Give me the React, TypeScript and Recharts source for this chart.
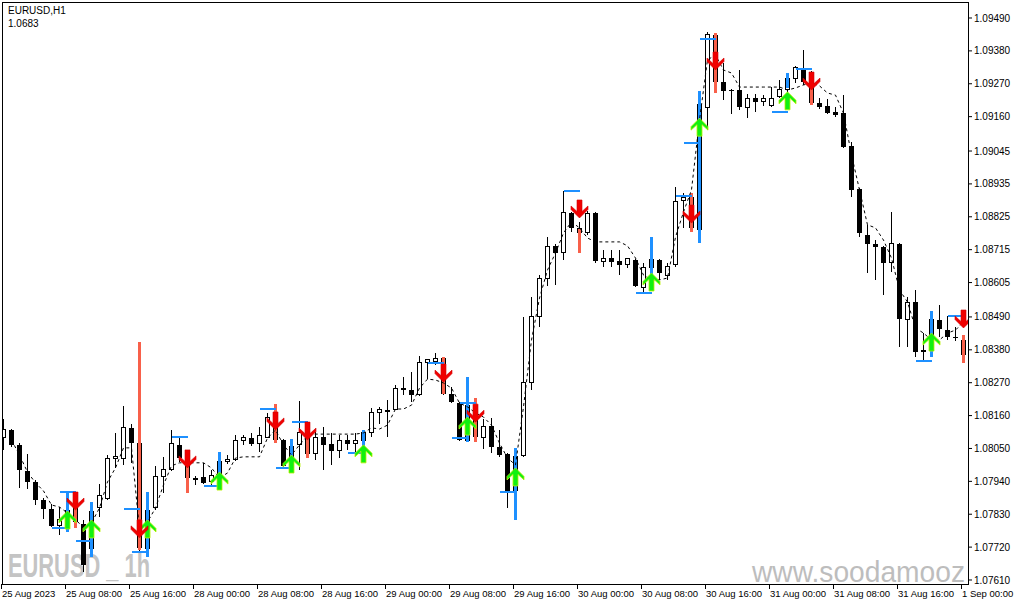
import React from 'react';
import { ComposedChart, Bar, Line, XAxis, YAxis } from 'recharts';

const FONT = '"Liberation Sans", Arial, sans-serif';

const timeLabels = ['25 Aug 2023', '25 Aug 08:00', '25 Aug 16:00', '28 Aug 00:00', '28 Aug 08:00', '28 Aug 16:00', '29 Aug 00:00', '29 Aug 08:00', '29 Aug 16:00', '30 Aug 00:00', '30 Aug 08:00', '30 Aug 16:00', '31 Aug 00:00', '31 Aug 08:00', '31 Aug 16:00', '1 Sep 00:00'];
const timeTickIdx = [0, 8, 16, 24, 32, 40, 48, 56, 64, 72, 80, 88, 96, 104, 112, 120];
const priceTicks = [1.0949, 1.0938, 1.0927, 1.0916, 1.09045, 1.08935, 1.08825, 1.08715, 1.08605, 1.0849, 1.0838, 1.0827, 1.0816, 1.0805, 1.0794, 1.0783, 1.0772, 1.0761];

const opens = [1.08088, 1.08112, 1.08062, 1.07975, 1.07938, 1.07878, 1.07848, 1.07791, 1.07794, 1.07861, 1.07797, 1.07717, 1.07851, 1.07884, 1.08018, 1.08015, 1.08119, 1.08068, 1.07717, 1.07851, 1.07955, 1.07978, 1.08062, 1.08018, 1.07945, 1.07955, 1.07941, 1.07941, 1.08008, 1.08012, 1.08075, 1.08085, 1.08065, 1.08088, 1.08155, 1.08078, 1.07992, 1.08062, 1.08105, 1.08032, 1.08088, 1.08065, 1.08042, 1.08078, 1.08065, 1.08075, 1.08102, 1.08169, 1.08179, 1.08182, 1.08246, 1.08246, 1.08229, 1.08336, 1.08342, 1.08352, 1.08232, 1.08202, 1.08078, 1.08195, 1.08088, 1.08125, 1.08055, 1.08032, 1.07911, 1.08028, 1.08269, 1.0849, 1.08617, 1.08728, 1.08704, 1.08838, 1.08788, 1.08771, 1.08838, 1.08677, 1.08687, 1.08677, 1.08664, 1.08681, 1.0859, 1.08657, 1.08681, 1.0863, 1.08664, 1.08878, 1.08891, 1.08781, 1.09192, 1.09433, 1.09277, 1.09249, 1.09249, 1.09192, 1.09222, 1.09209, 1.09196, 1.09226, 1.09252, 1.09286, 1.09319, 1.09277, 1.09206, 1.09196, 1.09175, 1.09172, 1.09062, 1.08918, 1.08764, 1.08734, 1.08724, 1.08671, 1.08734, 1.08483, 1.0854, 1.08376, 1.08379, 1.0848, 1.08446, 1.08423, 1.08413];
const highs = [1.08149, 1.08115, 1.08068, 1.08032, 1.07945, 1.07884, 1.07864, 1.07854, 1.07904, 1.07901, 1.07811, 1.07871, 1.07931, 1.08028, 1.08102, 1.08192, 1.08132, 1.08406, 1.07905, 1.07992, 1.08022, 1.08112, 1.08088, 1.08035, 1.07958, 1.08001, 1.07978, 1.08038, 1.08028, 1.08095, 1.08095, 1.08102, 1.08122, 1.08169, 1.08199, 1.08082, 1.08082, 1.08209, 1.08128, 1.08105, 1.08122, 1.08102, 1.08095, 1.08095, 1.08102, 1.08112, 1.08185, 1.08189, 1.08212, 1.08262, 1.08289, 1.08306, 1.08359, 1.08349, 1.08369, 1.08356, 1.08256, 1.08205, 1.08289, 1.08219, 1.08149, 1.08152, 1.08112, 1.08035, 1.08052, 1.0849, 1.08557, 1.0863, 1.08758, 1.08735, 1.08911, 1.08841, 1.08808, 1.08845, 1.08841, 1.08714, 1.08714, 1.08714, 1.08687, 1.08684, 1.08671, 1.08758, 1.08684, 1.08671, 1.08925, 1.08905, 1.08905, 1.09242, 1.09443, 1.0944, 1.09339, 1.09252, 1.09316, 1.09236, 1.09236, 1.09232, 1.09259, 1.09283, 1.09306, 1.09329, 1.09383, 1.09313, 1.09222, 1.09219, 1.09192, 1.09232, 1.09075, 1.08921, 1.08798, 1.08747, 1.08728, 1.08841, 1.08738, 1.08557, 1.0858, 1.08436, 1.0851, 1.0853, 1.08493, 1.08456, 1.0843];
const lows = [1.08045, 1.08055, 1.07918, 1.07915, 1.07861, 1.07814, 1.07787, 1.07761, 1.07771, 1.07784, 1.07637, 1.07687, 1.07821, 1.07878, 1.07985, 1.07995, 1.08001, 1.07704, 1.07687, 1.07844, 1.07901, 1.07975, 1.08005, 1.07901, 1.07928, 1.07931, 1.07928, 1.07911, 1.07998, 1.08008, 1.08062, 1.08058, 1.08038, 1.08085, 1.08068, 1.07985, 1.07968, 1.07978, 1.08018, 1.08012, 1.07978, 1.07995, 1.08018, 1.08045, 1.08035, 1.08012, 1.08088, 1.08132, 1.08088, 1.08179, 1.08229, 1.08205, 1.08226, 1.08282, 1.08329, 1.08229, 1.08202, 1.08075, 1.08072, 1.08072, 1.08048, 1.08035, 1.08022, 1.07851, 1.07811, 1.08022, 1.08246, 1.08456, 1.08594, 1.08597, 1.08681, 1.08774, 1.08704, 1.08764, 1.08671, 1.08657, 1.08657, 1.0863, 1.08654, 1.0859, 1.0857, 1.0858, 1.08614, 1.08614, 1.08657, 1.08788, 1.08774, 1.08737, 1.09115, 1.09239, 1.09216, 1.09169, 1.09182, 1.09155, 1.09175, 1.09196, 1.09192, 1.09222, 1.09242, 1.09273, 1.09266, 1.09199, 1.09186, 1.09169, 1.09159, 1.09055, 1.08891, 1.08757, 1.08637, 1.08614, 1.08563, 1.0864, 1.08389, 1.08389, 1.08356, 1.08346, 1.08356, 1.08423, 1.08413, 1.0841, 1.08336];
const closes = [1.08112, 1.08062, 1.07978, 1.07938, 1.07878, 1.07848, 1.07791, 1.07811, 1.07844, 1.07804, 1.0766, 1.07838, 1.07891, 1.08018, 1.08022, 1.08119, 1.08068, 1.07717, 1.07844, 1.07955, 1.07978, 1.08065, 1.08018, 1.07951, 1.07948, 1.07935, 1.07958, 1.08008, 1.08012, 1.08078, 1.08085, 1.08065, 1.08092, 1.08155, 1.08078, 1.07992, 1.08058, 1.08105, 1.08032, 1.08088, 1.08062, 1.08042, 1.08078, 1.08065, 1.08075, 1.08102, 1.08169, 1.08179, 1.08172, 1.08249, 1.08249, 1.08229, 1.08339, 1.08346, 1.08352, 1.08232, 1.08205, 1.08078, 1.08195, 1.08088, 1.08122, 1.08055, 1.08028, 1.07908, 1.08022, 1.08269, 1.0849, 1.08617, 1.08725, 1.08704, 1.08841, 1.08788, 1.08771, 1.08835, 1.08677, 1.08687, 1.08674, 1.08664, 1.08684, 1.08594, 1.08657, 1.08681, 1.08637, 1.0866, 1.08875, 1.08891, 1.08788, 1.09199, 1.09436, 1.09277, 1.09246, 1.09246, 1.09192, 1.09222, 1.09209, 1.09222, 1.09222, 1.09252, 1.09286, 1.09323, 1.09277, 1.09206, 1.09192, 1.09172, 1.09165, 1.09058, 1.08915, 1.08771, 1.08734, 1.08724, 1.08671, 1.08734, 1.08483, 1.08537, 1.08373, 1.08379, 1.0848, 1.0845, 1.08423, 1.0842, 1.08363];
const trail = [null, 1.08078, 1.08028, 1.07971, 1.07935, 1.07908, 1.07861, 1.07854, 1.07834, 1.07811, 1.07787, 1.07801, 1.07851, 1.07938, 1.07985, 1.08052, 1.08052, 1.07777, 1.07804, 1.07851, 1.07928, 1.07992, 1.08002, 1.08002, 1.08002, 1.08002, 1.07985, 1.07951, 1.07968, 1.08018, 1.08022, 1.08022, 1.08022, 1.08085, 1.08112, 1.08062, 1.08028, 1.08062, 1.08092, 1.08098, 1.08098, 1.08098, 1.08098, 1.08098, 1.08098, 1.08102, 1.08119, 1.08115, 1.08128, 1.08182, 1.08182, 1.08195, 1.08252, 1.08282, 1.08279, 1.08269, 1.08252, 1.08202, 1.08189, 1.08169, 1.08155, 1.08128, 1.08068, 1.08018, 1.07995, 1.08189, 1.08413, 1.08553, 1.08647, 1.08704, 1.08771, 1.08808, 1.08788, 1.08754, 1.08741, 1.08741, 1.08741, 1.08741, 1.08728, 1.08687, 1.0863, 1.08614, 1.08614, 1.0862, 1.08757, 1.08841, 1.08915, 1.09149, 1.0935, 1.09366, 1.09316, 1.09306, 1.09259, 1.09259, 1.09259, 1.09259, 1.09259, 1.09259, 1.09249, 1.09256, 1.09266, 1.09273, 1.09263, 1.09239, 1.09232, 1.09172, 1.09032, 1.08915, 1.08798, 1.08788, 1.08747, 1.08687, 1.0858, 1.0854, 1.08453, 1.08436, 1.08413, 1.08413, 1.08436, 1.08446, 1.08473];

const buyIdx = [8, 11, 18, 27, 36, 45, 58, 64, 81, 87, 98, 116];
const buyBarTop = [1.07904, 1.07871, 1.07905, 1.08038, 1.08082, 1.08112, 1.08289, 1.08052, 1.08758, 1.09246, 1.09306, 1.0851];
const buyBarBottom = [1.07771, 1.07687, 1.07687, 1.07911, 1.07968, 1.08012, 1.08072, 1.07811, 1.0858, 1.08738, 1.09256, 1.08356];
const buyLevel = [1.07784, 1.0774, 1.07704, 1.07925, 1.07985, 1.08035, 1.08085, 1.07904, 1.0857, 1.09072, 1.09176, 1.08343];
const buyArrow = [1.07841, 1.07811, 1.07811, 1.07971, 1.08028, 1.08062, 1.08155, 1.07985, 1.08637, 1.09155, 1.09243, 1.08436];

const sellIdx = [9, 17, 23, 34, 38, 55, 59, 72, 86, 89, 101, 120];
const sellBarTop = [1.07901, 1.08406, 1.08025, 1.08199, 1.08128, 1.08356, 1.08219, 1.08784, 1.08905, 1.0944, 1.09309, 1.0843];
const sellBarBottom = [1.07784, 1.0771, 1.07901, 1.08068, 1.08018, 1.08232, 1.08072, 1.08704, 1.08774, 1.09239, 1.09199, 1.08336];
const sellLevel = [1.07904, 1.07848, 1.08088, 1.08182, 1.08138, 1.08336, 1.08202, 1.08911, 1.08894, 1.0942, 1.09319, 1.08493];
const sellArrow = [1.07844, 1.07751, 1.07985, 1.08112, 1.08078, 1.08272, 1.08138, 1.08821, 1.08804, 1.09316, 1.09249, 1.08453];

const rows: any[] = opens.map((o, i) => ({
  i, o, h: highs[i], l: lows[i], c: closes[i], hl: [lows[i], highs[i]], trail: trail[i],
  bbT: null, bbB: null, rbT: null, rbB: null, lvl: null, up: null, dn: null,
}));
buyIdx.forEach((idx, k) => {
  rows[idx].bbT = buyBarTop[k]; rows[idx].bbB = buyBarBottom[k];
  rows[idx].lvl = buyLevel[k]; rows[idx].up = buyArrow[k];
});
sellIdx.forEach((idx, k) => {
  rows[idx].rbT = sellBarTop[k]; rows[idx].rbB = sellBarBottom[k];
  rows[idx].lvl = sellLevel[k]; rows[idx].dn = sellArrow[k];
});

const BLUE = '#1E90FF';
const TOMATO = '#F8604A';

const Candle = (props: any) => {
  const { x, y, width, height, payload } = props;
  if (!payload || x == null || y == null || height == null) return <g />;
  const top = Math.min(y, y + height);
  const bot = Math.max(y, y + height);
  const { o, h, l, c } = payload;
  const Y = (p: number) => top + ((h - p) / (h - l)) * (bot - top);
  const cx = Math.floor(x + width / 2) + 0.5;
  const bull = c >= o;
  const bTop = Y(Math.max(o, c));
  const bBot = Y(Math.min(o, c));
  const bh = Math.max(bBot - bTop, 1);
  return (
    <g>
      <line x1={cx} x2={cx} y1={top} y2={bot} stroke="#000" strokeWidth={1} shapeRendering="crispEdges" />
      {bull ? (
        <rect x={cx - 2} y={bTop} width={4} height={bh} fill="#fff" stroke="#000" strokeWidth={1} shapeRendering="crispEdges" />
      ) : (
        <rect x={cx - 2.5} y={bTop} width={5} height={bh} fill="#000" shapeRendering="crispEdges" />
      )}
      {payload.bbT != null && (
        <rect x={cx - 1.5} y={Y(payload.bbT)} width={3} height={Y(payload.bbB) - Y(payload.bbT)} fill={BLUE} shapeRendering="crispEdges" />
      )}
      {payload.rbT != null && (
        <rect x={cx - 1.5} y={Y(payload.rbT)} width={3} height={Y(payload.rbB) - Y(payload.rbT)} fill={TOMATO} shapeRendering="crispEdges" />
      )}
    </g>
  );
};

const LevelDot = (p: any) => {
  const { cx, cy, payload, index } = p;
  if (!payload || payload.lvl == null || cy == null || cx == null) return <g key={`lv${index}`} />;
  return <line key={`lv${index}`} x1={cx - 16} x2={cx} y1={cy} y2={cy} stroke={BLUE} strokeWidth={2} shapeRendering="crispEdges" />;
};

const arrowPts = [[0, 0], [8.5, 8.5], [8.5, 12], [2.5, 6.5], [2.5, 18], [-2.5, 18], [-2.5, 6.5], [-8.5, 12], [-8.5, 8.5]];

const UpDot = (p: any) => {
  const { cx, cy, payload, index } = p;
  if (!payload || payload.up == null || cy == null || cx == null) return <g key={`up${index}`} />;
  const pts = arrowPts.map(([dx, dy]) => `${cx + dx},${cy + dy}`).join(' ');
  return <polygon key={`up${index}`} points={pts} fill="#10F010" stroke="#B8F000" strokeWidth={0.8} />;
};

const DnDot = (p: any) => {
  const { cx, cy, payload, index } = p;
  if (!payload || payload.dn == null || cy == null || cx == null) return <g key={`dn${index}`} />;
  const pts = arrowPts.map(([dx, dy]) => `${cx + dx},${cy - dy}`).join(' ');
  return <polygon key={`dn${index}`} points={pts} fill="#F00000" stroke="#D00000" strokeWidth={0.6} />;
};

const XTick = (props: any) => {
  const { x, payload } = props;
  const k = timeTickIdx.indexOf(payload.value);
  if (k < 0) return <g />;
  const tx = Math.floor(x) - 1.5;
  return (
    <g>
      <line x1={tx} x2={tx} y1={584} y2={589} stroke="#000" shapeRendering="crispEdges" />
      <text x={tx + 0.5} y={597} fontSize={9.5} fontFamily={FONT} fill="#000" textAnchor="start">{timeLabels[k]}</text>
    </g>
  );
};

export default function App() {
  return (
    <div style={{ position: 'absolute', left: 0, top: 0, width: 1015, height: 605, background: '#fff', overflow: 'hidden' }}>
      <svg width={1015} height={605} style={{ position: 'absolute', left: 0, top: 0 }}>
        <text x={8} y={577} fontSize={33} fontWeight="bold" fontFamily={FONT} fill="#C4C4C4" textLength={142} lengthAdjust="spacingAndGlyphs">EURUSD _ 1h</text>
        <text x={752} y={582} fontSize={29} fontFamily={FONT} fill="#BDBDBD" textLength={213} lengthAdjust="spacingAndGlyphs">www.soodamooz</text>
        <text x={8} y={14} fontSize={10} fontFamily={FONT} fill="#000">EURUSD,H1</text>
        <text x={8} y={27} fontSize={10} fontFamily={FONT} fill="#000">1.0683</text>
      </svg>
      <div style={{ position: 'absolute', left: 0, top: 0 }}>
        <ComposedChart width={1015} height={605} data={rows} margin={{ top: 2, right: 0, bottom: 0, left: 2 }}>
          <XAxis dataKey="i" type="number" domain={[-0.1875, 120.5625]} allowDataOverflow ticks={timeTickIdx} interval={0} tick={<XTick />} tickLine={false} axisLine={false} height={21} />
          <YAxis orientation="right" type="number" domain={[1.075966, 1.095435]} allowDataOverflow ticks={priceTicks} interval={0} width={47}
            tick={{ fontSize: 10, fill: '#000', fontFamily: FONT }} tickLine={{ stroke: '#000' }} tickSize={4} tickMargin={2} axisLine={false}
            tickFormatter={(v: number) => v.toFixed(5)} />
          <Bar dataKey="hl" barSize={5} shape={<Candle />} isAnimationActive={false} />
          <Line dataKey="trail" type="linear" stroke="#000" strokeWidth={1} strokeDasharray="3 3" dot={false} activeDot={false} isAnimationActive={false} />
          <Line dataKey="lvl" stroke="none" dot={LevelDot} activeDot={false} isAnimationActive={false} />
          <Line dataKey="up" stroke="none" dot={UpDot} activeDot={false} isAnimationActive={false} />
          <Line dataKey="dn" stroke="none" dot={DnDot} activeDot={false} isAnimationActive={false} />
        </ComposedChart>
      </div>
      <div style={{ position: 'absolute', left: 2, top: 2, width: 967, height: 583, border: '1px solid #000', boxSizing: 'border-box', pointerEvents: 'none' }} />
    </div>
  );
}
